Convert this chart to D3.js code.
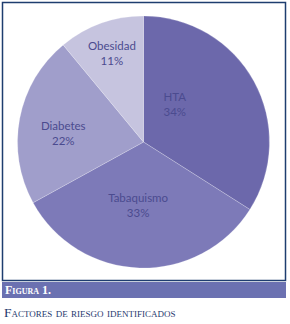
<!DOCTYPE html>
<html>
<head>
<meta charset="utf-8">
<script src="https://cdn.jsdelivr.net/npm/d3@7"></script>
<style>
  body { margin: 0; background: #fff; }
  svg { display: block; }
</style>
</head>
<body>
<svg id="chart"></svg>
<script>
// values
const categories = ['HTA', 'Tabaquismo', 'Diabetes', 'Obesidad'];
const percents = [34, 33, 22, 11];
const colors = ['#6c68ab', '#7d7ab8', '#a09ecb', '#c6c4df'];

const width = 290;
const height = 324;
const cx = 143.5, cy = 142, radius = 126;

const svg = d3.select('#chart')
    .attr('width', width)
    .attr('height', height);

// frame round the chart
svg.append('rect')
    .attr('x', 2.5).attr('y', 2.5)
    .attr('width', 283).attr('height', 278)
    .attr('fill', '#fff')
    .attr('stroke', '#1e3d6f')
    .attr('stroke-width', 1.5);

const data = categories.map((c, i) => ({ name: c, value: percents[i], color: colors[i] }));

const pie = d3.pie().value(d => d.value).sort(null);
const arc = d3.arc().innerRadius(0).outerRadius(radius);
const labelArc = d3.arc().innerRadius(radius * 0.6).outerRadius(radius * 0.6);

// excel put the labels a bit off the bisector, nudge them there
const labelNudge = [[-35, -2], [-3, -13], [-6, 5], [-6, -18]];

const g = svg.append('g').attr('transform', `translate(${cx},${cy})`);

const arcs = pie(data);

g.selectAll('path')
    .data(arcs)
    .enter()
    .append('path')
    .attr('d', arc)
    .attr('fill', d => d.data.color)
    .attr('stroke', 'rgba(255,255,255,0.35)')
    .attr('stroke-width', 0.6);

const labels = g.selectAll('text.lbl')
    .data(arcs)
    .enter()
    .append('text')
    .attr('class', 'lbl')
    .attr('transform', (d, i) => {
        const c = labelArc.centroid(d);
        return `translate(${c[0] + labelNudge[i][0]},${c[1] + labelNudge[i][1]})`;
    })
    .style('text-anchor', 'middle')
    .style('font-family', 'Lato, "Open Sans", sans-serif')
    .style('font-size', '11.5px')
    .attr('fill', '#4b4b8f');

labels.append('tspan')
    .attr('x', 0).attr('dy', '-0.25em')
    .text(d => d.data.name);
labels.append('tspan')
    .attr('x', 0).attr('dy', '1.3em')
    .text(d => d.data.value + '%');

// figure caption band
svg.append('rect')
    .attr('x', 2).attr('y', 282)
    .attr('width', 284).attr('height', 16)
    .attr('fill', '#6b71b1');

svg.append('text')
    .attr('x', 5).attr('y', 294)
    .style('font-family', '"Liberation Serif", "DejaVu Serif", serif')
    .style('font-variant', 'small-caps')
    .style('font-weight', 'bold')
    .style('font-size', '12px')
    .attr('fill', '#fff')
    .text('Figura 1.');

svg.append('text')
    .attr('x', 4).attr('y', 317)
    .style('font-family', '"Liberation Serif", "DejaVu Serif", serif')
    .style('font-variant', 'small-caps')
    .style('font-size', '13.5px')
    .attr('fill', '#1f3a6e')
    .text('Factores de riesgo identificados');
</script>
</body>
</html>
